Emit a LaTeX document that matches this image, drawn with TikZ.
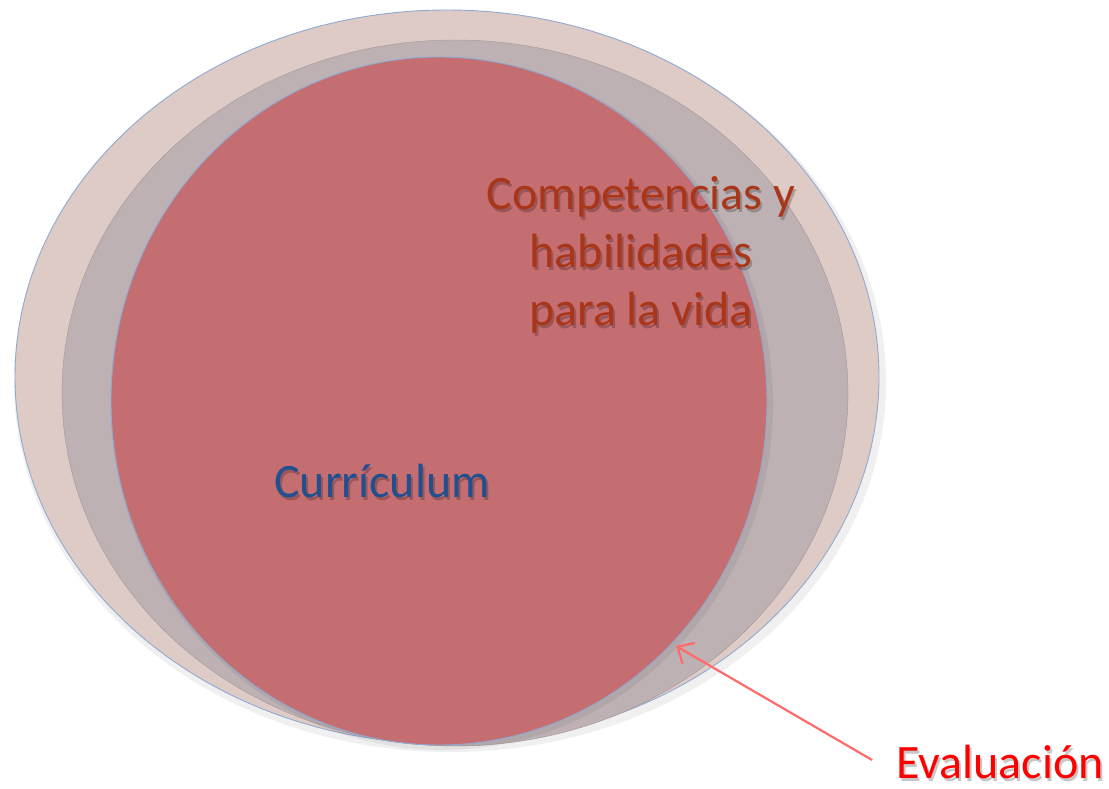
\documentclass[tikz,border=0pt]{standalone}
\usepackage{fontspec}
\setmainfont{Carlito}
\usetikzlibrary{shapes.geometric,arrows.meta}
\definecolor{outerfill}{HTML}{DFCBC5}
\definecolor{midfill}{HTML}{BDB1B3}
\definecolor{innerfill}{HTML}{C56E71}
\definecolor{rimblue}{HTML}{8FAAD2}
\definecolor{compcol}{HTML}{A93618}
\definecolor{curcol}{HTML}{22508F}
\definecolor{arrowred}{HTML}{FF6A6A}
\tikzset{
  blob/.style={ellipse, inner sep=0pt, draw=rimblue, line width=0.9pt},
  lbl/.style={font=\fontsize{48}{58}\selectfont, align=center, inner sep=0pt},
  shade/.style={lbl, text=black, opacity=0.22},
  pointer/.style={draw=arrowred, line width=2.2pt, -{Straight Barb[length=13pt,width=24pt,line width=2.2pt]}}
}
\begin{document}
\begin{tikzpicture}[x=1pt,y=-1pt]
\useasboundingbox (0,0) rectangle (1109,789);
% soft shadow under outer ellipse
\fill[black, opacity=0.06] (450,382) ellipse [x radius=436, y radius=370];
\node[blob, fill=outerfill, minimum width=864pt, minimum height=734pt] (outer) at (447,377) {};
\node[ellipse, inner sep=0pt, fill=midfill, draw=midfill!85!black, line width=0.4pt, minimum width=786pt, minimum height=706pt] (middle) at (455,393) {};
\fill[black, opacity=0.06] (442,404) ellipse [x radius=331, y radius=346];
\node[blob, fill=innerfill, minimum width=656pt, minimum height=688pt] (inner) at (439,401) {};
% labels with light drop shadows
\node[shade] at (643,258) {Competencias y\\habilidades\\para la vida};
\node[lbl, text=compcol] (comp) at (641,255) {Competencias y\\habilidades\\para la vida};
\node[shade] at (384,484) {Currículum};
\node[lbl, text=curcol] (cur) at (382,481) {Currículum};
\node[shade] at (1002,765) {Evaluación};
\node[lbl, text=red] (eval) at (1000,762) {Evaluación};
\coordinate (tip) at (676,646);
\draw[pointer] ([xshift=-24pt,yshift=2pt]eval.west) -- (tip);
\end{tikzpicture}
\end{document}
